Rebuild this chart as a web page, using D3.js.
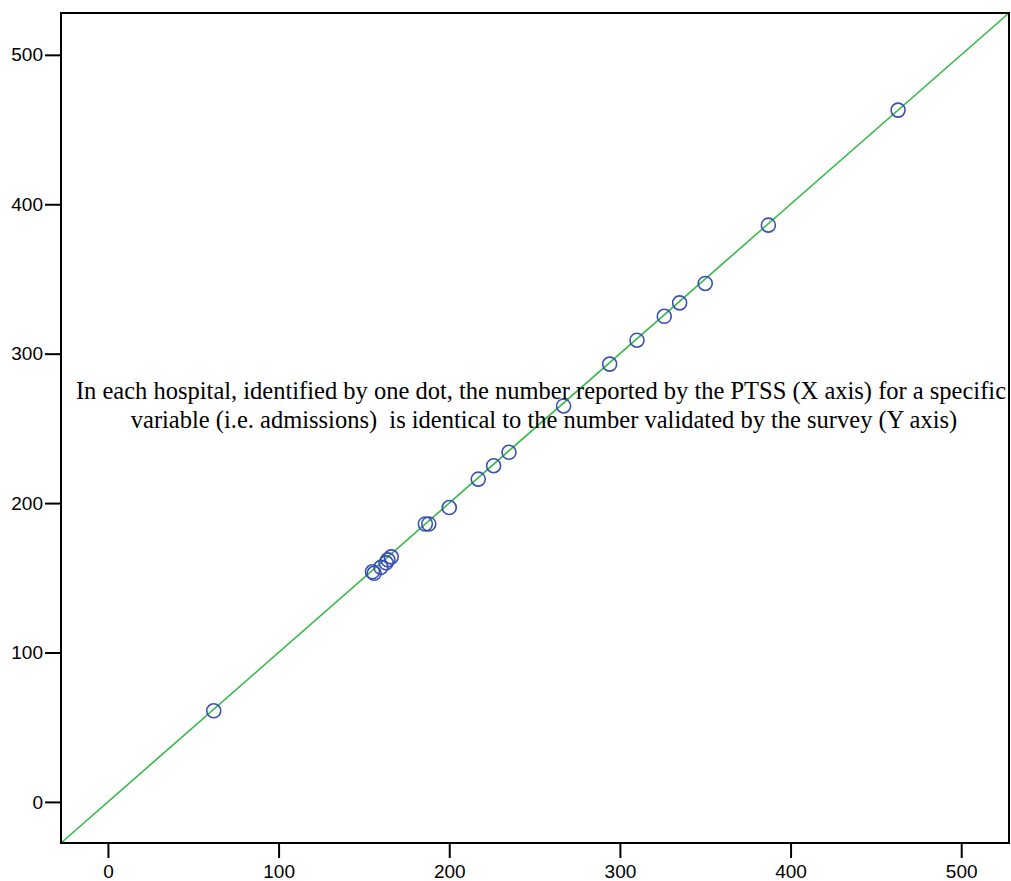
<!DOCTYPE html>
<html>
<head>
<meta charset="utf-8">
<script src="https://cdn.jsdelivr.net/npm/d3@7"></script>
<style>
  body { margin: 0; background: #fff; }
  .tick text { font-family: "Liberation Sans", Arial, sans-serif; font-size: 19px; fill: #000; }
  .note { font-family: "Liberation Serif", "Times New Roman", serif; font-size: 24.5px; fill: #000; white-space: pre; }
</style>
</head>
<body>
<div id="container"></div>
<script>
/* DATA */
// values reported by PTSS (x) vs validated by survey (y), one per hospital
const ptss   = [62, 155, 156, 160, 163, 164, 166, 186, 188, 200, 217, 226, 235, 267, 294, 310, 326, 335, 350, 387, 463];
const survey = [61, 154, 153, 157, 160, 162, 164, 186, 186, 197, 216, 225, 234, 265, 293, 309, 325, 334, 347, 386, 463];
const tickValues = [0, 100, 200, 300, 400, 500];
const noteLines = [
  "In each hospital, identified by one dot, the number reported by the PTSS (X axis) for a specific",
  "variable (i.e. admissions)  is identical to the number validated by the survey (Y axis)"
];

/* CONSTANTS */
const width = 1011,
  height = 881,
  margin = { top: 13, right: 2, bottom: 38, left: 61 },
  domain = [-27.5, 528];

const svg = d3.select("#container")
  .append("svg")
  .attr("width", width)
  .attr("height", height);

const xScale = d3.scaleLinear()
  .domain(domain)
  .range([margin.left, width - margin.right]);

const yScale = d3.scaleLinear()
  .domain(domain)
  .range([height - margin.bottom, margin.top]);

// fit line y = x
svg.append("line")
  .attr("x1", xScale(domain[0]))
  .attr("y1", yScale(domain[0]))
  .attr("x2", xScale(domain[1]))
  .attr("y2", yScale(domain[1]))
  .attr("stroke", "#33b845")
  .attr("stroke-width", 1.6);

// dots
svg.append("g")
  .selectAll("circle")
  .data(ptss.map((d, i) => ({ x: d, y: survey[i] })))
  .join("circle")
  .attr("cx", d => xScale(d.x))
  .attr("cy", d => yScale(d.y))
  .attr("r", 7)
  .attr("fill", "none")
  .attr("stroke", "#3a50b2")
  .attr("stroke-width", 1.6);

// axes
const xAxis = d3.axisBottom(xScale).tickValues(tickValues).tickSize(15).tickPadding(7);
const yAxis = d3.axisLeft(yScale).tickValues(tickValues).tickSize(16).tickPadding(2);

svg.append("g")
  .attr("transform", `translate(0, ${height - margin.bottom})`)
  .call(xAxis)
  .call(g => g.select(".domain").remove())
  .call(g => g.selectAll(".tick line").attr("stroke", "#000").attr("stroke-width", 2));

svg.append("g")
  .attr("transform", `translate(${margin.left}, 0)`)
  .call(yAxis)
  .call(g => g.select(".domain").remove())
  .call(g => g.selectAll(".tick line").attr("stroke", "#000").attr("stroke-width", 2));

// frame
svg.append("rect")
  .attr("x", margin.left)
  .attr("y", margin.top)
  .attr("width", width - margin.left - margin.right)
  .attr("height", height - margin.top - margin.bottom)
  .attr("fill", "none")
  .attr("stroke", "#000")
  .attr("stroke-width", 2);

// annotation
svg.append("text")
  .attr("class", "note")
  .attr("text-anchor", "middle")
  .selectAll("tspan")
  .data(noteLines)
  .join("tspan")
  .attr("x", (d, i) => i === 0 ? 541 : 544)
  .attr("y", (d, i) => 399 + i * 29)
  .text(d => d);
</script>
</body>
</html>
